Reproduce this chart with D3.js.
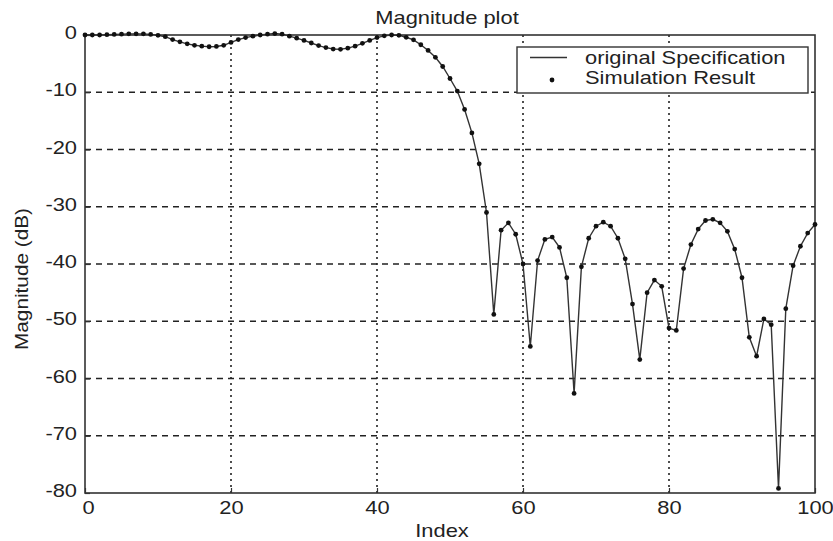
<!DOCTYPE html>
<html>
<head>
<meta charset="utf-8">
<script src="https://cdn.jsdelivr.net/npm/d3@7"></script>
<style>
  html, body { margin: 0; padding: 0; background: #fff; }
  text { font-family: "Liberation Sans", Arial, Helvetica, sans-serif; fill: #222; }
</style>
</head>
<body>
<svg id="chart" width="833" height="541"></svg>
<script>
// ---- data ----
const indexValues = d3.range(0, 101);
const magnitude = [
  0, 0, 0, 0.05, 0.1, 0.15, 0.2, 0.2, 0.2, 0.1,
  -0.05, -0.3, -0.8, -1.2, -1.55, -1.8, -1.95, -2.05, -2.0, -1.8,
  -1.3, -0.8, -0.45, -0.2, 0.0, 0.15, 0.25, 0.15, -0.2, -0.55,
  -0.95, -1.4, -1.85, -2.2, -2.45, -2.5, -2.3, -1.95, -1.45, -0.95,
  -0.45, -0.15, 0.0, -0.05, -0.4, -0.85, -1.7, -2.7, -3.9, -5.5,
  -7.6, -9.8, -13.0, -17.1, -22.5, -31.0, -48.8, -34.1, -32.8, -34.8,
  -40.0, -54.4, -39.4, -35.7, -35.3, -37.1, -42.4, -62.6, -40.5, -35.5,
  -33.4, -32.7, -33.4, -35.5, -39.1, -47.0, -56.7, -45.0, -42.8, -43.9,
  -51.2, -51.6, -40.8, -36.6, -33.9, -32.4, -32.2, -32.8, -34.3, -37.4,
  -42.4, -52.8, -56.1, -49.6, -50.6, -79.2, -47.8, -40.3, -36.9, -34.6,
  -33.1
];
const xTicks = [0, 20, 40, 60, 80, 100];
const yTicks = [0, -10, -20, -30, -40, -50, -60, -70, -80];
const titleText = "Magnitude plot";
const xLabel = "Index";
const yLabel = "Magnitude (dB)";
const legendLabels = ["original Specification", "Simulation Result"];

// ---- layout ----
const svg = d3.select("#chart");
const L = 85, R = 815, T = 35, B = 493;
const SX = 1.25;           // horizontal stretch of the scanned text
const FS = 17.5;

const x = d3.scaleLinear().domain([0, 100]).range([L, R]);
const y = d3.scaleLinear().domain([0, -80]).range([T, B]);

svg.append("rect").attr("width", 833).attr("height", 541).attr("fill", "#fff");

// grid
const grid = svg.append("g");
grid.selectAll("line.h").data(yTicks.filter(v => v < 0 && v > -80)).join("line")
  .attr("x1", L).attr("x2", R).attr("y1", d => y(d)).attr("y2", d => y(d))
  .attr("stroke", "#222").attr("stroke-width", 1.4).attr("stroke-dasharray", "6,5");
grid.selectAll("line.v").data(xTicks.filter(v => v > 0 && v < 100)).join("line")
  .attr("y1", T).attr("y2", B).attr("x1", d => x(d)).attr("x2", d => x(d))
  .attr("stroke", "#222").attr("stroke-width", 1.6).attr("stroke-dasharray", "2,4");

// axes
const fmt = d => String(d);
const xAxis = svg.append("g").attr("transform", `translate(0,${B})`)
  .call(d3.axisBottom(x).tickValues(xTicks).tickFormat(fmt).tickSizeInner(-5).tickSizeOuter(0).tickPadding(8));
const yAxis = svg.append("g").attr("transform", `translate(${L},0)`)
  .call(d3.axisLeft(y).tickValues(yTicks).tickFormat(fmt).tickSizeInner(-5).tickSizeOuter(0).tickPadding(8));
[xAxis, yAxis].forEach(a => {
  a.select(".domain").remove();
  a.selectAll(".tick line").attr("stroke", "#333").attr("stroke-width", 1.2);
  a.selectAll(".tick text").style("font-size", FS + "px")
    .style("font-family", '"Liberation Sans", Arial, sans-serif').attr("fill", "#222");
});
xAxis.selectAll(".tick text").attr("y", 0).attr("dy", null)
  .attr("transform", `translate(0,21) scale(${SX},1)`);
xAxis.selectAll(".tick").filter(d => d === 0).select("text")
  .attr("transform", `translate(3,21) scale(${SX},1)`);
yAxis.selectAll(".tick text").attr("x", 0).attr("dy", "0.32em")
  .attr("transform", `translate(-8,-2) scale(${SX},1)`);

// box
svg.append("rect").attr("x", L).attr("y", T).attr("width", R - L).attr("height", B - T)
  .attr("fill", "none").attr("stroke", "#333").attr("stroke-width", 1.6);

// series
const pts = indexValues.map((d, i) => [d, magnitude[i]]);
svg.append("path").datum(pts)
  .attr("d", d3.line().x(d => x(d[0])).y(d => y(d[1])))
  .attr("fill", "none").attr("stroke", "#333").attr("stroke-width", 1.4);
svg.append("g").selectAll("circle").data(pts).join("circle")
  .attr("cx", d => x(d[0])).attr("cy", d => y(d[1])).attr("r", 2.4).attr("fill", "#111");

// titles
svg.append("text").attr("transform", `translate(${(L + R) / 2 - 3},24) scale(${SX},1)`)
  .attr("text-anchor", "middle").style("font-size", FS + "px").text(titleText);
svg.append("text").attr("transform", `translate(${(L + R) / 2 - 8},537) scale(${SX},1)`)
  .attr("text-anchor", "middle").style("font-size", FS + "px").text(xLabel);
svg.append("text").attr("transform", `translate(28,${(T + B) / 2 + 15}) rotate(-90)`)
  .attr("text-anchor", "middle").style("font-size", "18px")
  .attr("textLength", 142).attr("lengthAdjust", "spacingAndGlyphs").text(yLabel);

// legend
const lg = svg.append("g");
lg.append("rect").attr("x", 517).attr("y", 47).attr("width", 291).attr("height", 46)
  .attr("fill", "#fff").attr("stroke", "#333").attr("stroke-width", 1.4);
lg.append("line").attr("x1", 530).attr("x2", 567).attr("y1", 57.5).attr("y2", 57.5)
  .attr("stroke", "#333").attr("stroke-width", 1.4);
lg.append("circle").attr("cx", 552).attr("cy", 80).attr("r", 2.4).attr("fill", "#111");
legendLabels.forEach((t, i) => {
  lg.append("text").attr("transform", `translate(585,${64 + i * 20}) scale(${SX},1)`)
    .style("font-size", FS + "px").text(t);
});
</script>
</body>
</html>
